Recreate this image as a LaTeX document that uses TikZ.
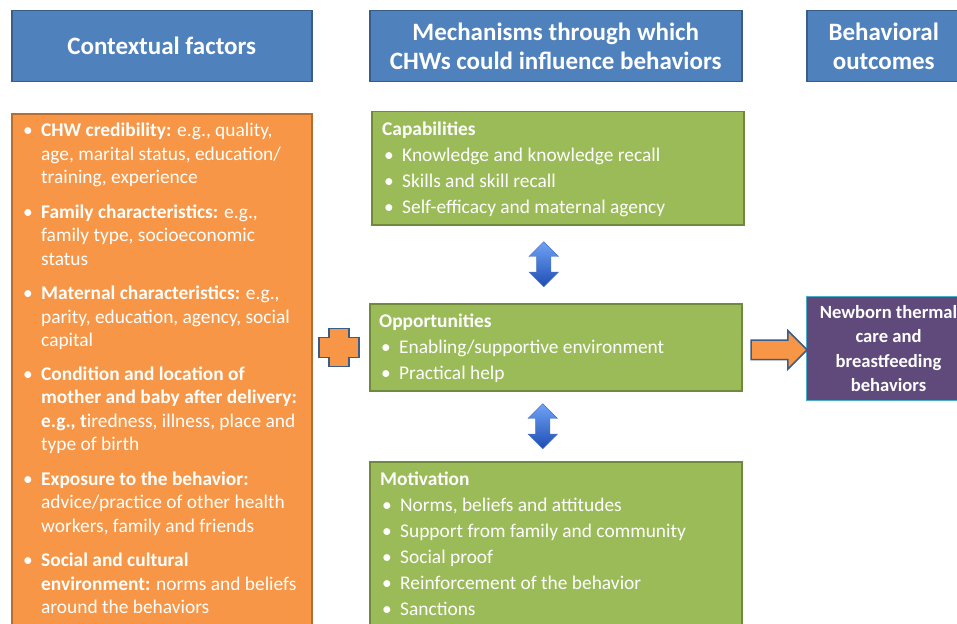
\documentclass[tikz,border=0pt]{standalone}
\usepackage{fontspec}
\setmainfont{Carlito}
\usetikzlibrary{shapes.arrows,calc,positioning}

\definecolor{hdrblue}{HTML}{4F81BD}
\definecolor{hdrline}{HTML}{385D8A}
\definecolor{ctxorange}{HTML}{F79646}
\definecolor{ctxline}{HTML}{B66D31}
\definecolor{mechgreen}{HTML}{9BBB59}
\definecolor{mechline}{HTML}{71893F}
\definecolor{outpurple}{HTML}{604A7B}
\definecolor{outcline}{HTML}{4BACC6}
\definecolor{arrowlight}{HTML}{6FA3F5}
\definecolor{arrowdark}{HTML}{1E4DB3}

\newcommand{\itemdot}{\makebox[20pt][l]{\hspace{2pt}\textbullet}}
\newcommand{\itemgap}{\hspace*{20pt}}

\tikzset{
  hdr/.style={draw=hdrline,line width=1.5pt,fill=hdrblue,text=white,
    font=\fontsize{25}{29}\selectfont\bfseries,align=center,
    minimum height=71pt,anchor=north west,inner sep=0pt},
  box/.style={line width=1.5pt,anchor=north west,inner sep=0pt},
  ctxlist/.style={text=white,align=left,anchor=north west,inner sep=0pt,
    font=\fontsize{19.4}{23.5}\selectfont},
  mechlist/.style={text=white,align=left,anchor=north west,inner sep=0pt,
    font=\fontsize{19.4}{26}\selectfont},
  updown/.style={double arrow,shape border rotate=90,minimum height=45pt,
    minimum width=29pt,double arrow head extend=7.5pt,inner sep=7pt,
    top color=arrowlight,bottom color=arrowdark,draw=arrowdark!80,line width=0.4pt},
  rarrow/.style={single arrow,minimum height=56pt,minimum width=37pt,
    single arrow head extend=9.5pt,inner sep=9pt,fill=ctxorange,
    draw=hdrline,line width=1.5pt},
  plus/.style={fill=ctxorange,draw=hdrline,line width=1.5pt,line join=miter}
}

\begin{document}
\begin{tikzpicture}[x=1pt,y=-1pt]
  \useasboundingbox (0,0) rectangle (957,623);

  % column headers
  \node[hdr,minimum width=300pt] (hctx) at (11,10) {Contextual factors};
  \node[hdr,minimum width=372pt] (hmech) at (369,10) {Mechanisms through which\\CHWs could influence behaviors};
  \node[hdr,minimum width=154pt] (hout) at (806,10) {Behavioral\\outcomes};

  % contextual factors
  \node[box,fill=ctxorange,draw=ctxline,minimum width=300pt,minimum height=530pt] (ctx) at (11,113) {};
  \node[ctxlist] (ctxtxt) at (21,123) {%
    \itemdot\textbf{CHW credibility:} e.g., quality,\\
    \itemgap age, marital status, education/\\
    \itemgap training, experience\\[11pt]
    \itemdot\textbf{Family characteristics:} e.g.,\\
    \itemgap family type, socioeconomic\\
    \itemgap status\\[11pt]
    \itemdot\textbf{Maternal characteristics:} e.g.,\\
    \itemgap parity, education, agency, social\\
    \itemgap capital\\[10pt]
    \itemdot\textbf{Condition and location of}\\
    \itemgap\textbf{mother and baby after delivery:}\\
    \itemgap\textbf{e.g., t}iredness, illness, place and\\
    \itemgap type of birth\\[11pt]
    \itemdot\textbf{Exposure to the behavior:}\\
    \itemgap advice/practice of other health\\
    \itemgap workers, family and friends\\[11pt]
    \itemdot\textbf{Social and cultural}\\
    \itemgap\textbf{environment:} norms and beliefs\\
    \itemgap around the behaviors};

  % mechanisms
  \node[box,fill=mechgreen,draw=mechline,minimum width=372pt,minimum height=113pt] (cap) at (371,111) {};
  \node[mechlist] (captxt) at (382,122) {%
    \textbf{Capabilities}\\
    \itemdot Knowledge and knowledge recall\\
    \itemdot Skills and skill recall\\
    \itemdot Self-efficacy and maternal agency};

  \node[box,fill=mechgreen,draw=mechline,minimum width=372pt,minimum height=87pt] (opp) at (369,303) {};
  \node[mechlist] (opptxt) at (379,314) {%
    \textbf{Opportunities}\\
    \itemdot Enabling/supportive environment\\
    \itemdot Practical help};

  \node[box,fill=mechgreen,draw=mechline,minimum width=372pt,minimum height=180pt] (mot) at (369,461) {};
  \node[mechlist] (mottxt) at (380,472) {%
    \textbf{Motivation}\\
    \itemdot Norms, beliefs and attitudes\\
    \itemdot Support from family and community\\
    \itemdot Social proof\\
    \itemdot Reinforcement of the behavior\\
    \itemdot Sanctions};

  % outcome
  \node[box,fill=outpurple,draw=outcline,line width=1pt,minimum width=164pt,minimum height=104pt,
    text=white,align=center,font=\fontsize{18.6}{24.5}\selectfont\bfseries] (out) at (806,296)
    {Newborn thermal\\care and\\breastfeeding\\behaviors};

  % links
  \node[updown] (capopp) at ($(cap.south)!0.5!(opp.north)+(-13,0)$) {};
  \node[updown] (oppmot) at ($(opp.south)!0.5!(mot.north)+(-13,0)$) {};
  \node[rarrow] (oppout) at ($(opp.east)!0.5!(out.west)+(0,2)$) {};
  \coordinate (pl) at ($(ctx.east |- opp.west)!0.5!(opp.west)+(-2,0)$);
  \draw[plus] ($(pl)+(-10,-19)$) -- ++(20,0) -- ++(0,9) -- ++(10,0) -- ++(0,20)
    -- ++(-10,0) -- ++(0,9) -- ++(-20,0) -- ++(0,-9) -- ++(-10,0) -- ++(0,-20)
    -- ++(10,0) -- cycle;
\end{tikzpicture}
\end{document}
